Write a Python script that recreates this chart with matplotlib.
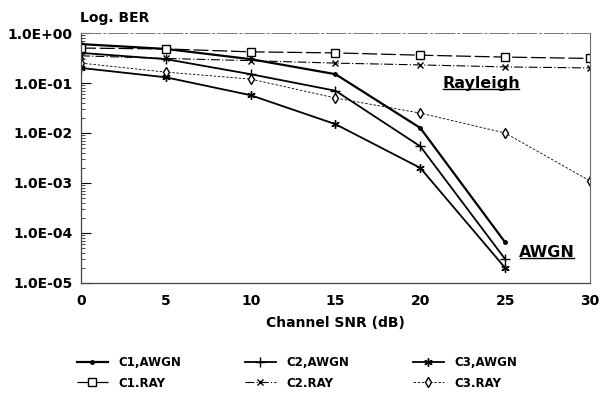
import matplotlib
matplotlib.use("Agg")
import matplotlib.pyplot as plt
from matplotlib.lines import Line2D

snr_awgn = [0, 5, 10, 15, 20, 25]
snr_ray = [0, 5, 10, 15, 20, 25, 30]
c1_awgn = [0.6, 0.48, 0.3, 0.15, 0.0126, 6.5e-5]
c2_awgn = [0.4, 0.3, 0.15, 0.07, 0.0054, 3e-5]
c3_awgn = [0.2, 0.13, 0.057, 0.015, 0.002, 2e-5]
c1_ray = [0.5, 0.48, 0.42, 0.4, 0.36, 0.33, 0.31]
c2_ray = [0.35, 0.31, 0.28, 0.25, 0.23, 0.21, 0.2]
c3_ray = [0.25, 0.165, 0.12, 0.05, 0.025, 0.01, 0.0011]

xticks = [0, 5, 10, 15, 20, 25, 30]
yticks = [1e0, 1e-1, 1e-2, 1e-3, 1e-4, 1e-5]
ytick_labels = ["1.0E+00", "1.0E-01", "1.0E-02", "1.0E-03", "1.0E-04", "1.0E-05"]

plt.rcParams['font.family'] = ['DejaVu Sans']

fig = plt.figure(figsize=(6.02, 3.93), dpi=100)
ax = fig.add_axes([0.1346, 0.280, 0.8454, 0.636])

l1, = ax.plot(snr_awgn, c1_awgn, '-', lw=1.6, marker='.', color='black', markersize=5, label='C1,AWGN')
l2, = ax.plot(snr_awgn, c2_awgn, '-', lw=1.3, marker='+', color='black', markersize=7, label='C2,AWGN')
l3, = ax.plot(snr_awgn, c3_awgn, '-', lw=1.3, marker=(6, 2, 0), color='black', markersize=6, label='C3,AWGN')
r1, = ax.plot(snr_ray, c1_ray, linestyle=(0, (12, 3)), lw=0.9, marker='s', markerfacecolor='white',
              color='black', markersize=5.5, label='C1.RAY')
r2, = ax.plot(snr_ray, c2_ray, linestyle=(0, (8, 2, 1, 2)), lw=0.8, marker='x', color='black',
              markersize=5, label='C2.RAY')
r3, = ax.plot(snr_ray, c3_ray, linestyle=(0, (3, 2)), lw=0.6, marker='d', markerfacecolor='white',
              color='black', markersize=5, label='C3.RAY')

ax.set_yscale('log')
ax.set_xlim(0, 30)
ax.set_ylim(1e-5, 1)
ax.set_xticks(xticks)
ax.set_xticklabels([str(v) for v in xticks], fontsize=10, fontweight='bold')
ax.set_yticks(yticks)
ax.set_yticklabels(ytick_labels, fontsize=10, fontweight='bold')
ax.tick_params(axis='x', length=0, pad=8)
ax.tick_params(axis='y', which='major', direction='in', length=7, width=0.8, pad=6)
ax.tick_params(axis='y', which='minor', direction='in', length=3, width=0.5, labelleft=False)

for s in ['left', 'bottom']:
    ax.spines[s].set_color('#444444')
    ax.spines[s].set_linewidth(0.9)
ax.spines['top'].set_color('#777777')
ax.spines['top'].set_linewidth(0.7)
ax.spines['top'].set_linestyle((0, (20, 3, 2, 3)))
ax.spines['right'].set_color('#666666')
ax.spines['right'].set_linewidth(0.8)

ax.set_xlabel('Channel SNR (dB)', fontsize=10, fontweight='bold', labelpad=6)
fig.text(0.133, 0.955, 'Log. BER', fontsize=10, fontweight='bold', ha='left', va='center')

t1 = ax.text(21.3, 0.1, 'Rayleigh', fontsize=11.5, fontweight='bold', ha='left', va='center')
t2 = ax.text(25.8, 4.0e-5, 'AWGN', fontsize=11.5, fontweight='bold', ha='left', va='center')

fig.canvas.draw()
r = fig.canvas.get_renderer()
inv = fig.transFigure.inverted()
for t in (t1, t2):
    bb = t.get_window_extent(r)
    (x0, y0) = inv.transform((bb.x0 + 1, bb.y0 + 2))
    (x1, _) = inv.transform((bb.x1 - 1, bb.y0 + 2))
    fig.add_artist(Line2D([x0, x1], [y0, y0], color='black', lw=1.0, transform=fig.transFigure))

leg = fig.legend(handles=[l1, r1, l2, r2, l3, r3], ncol=3, loc='upper left',
                 bbox_to_anchor=(0.12, 0.105), frameon=False, fontsize=8.5,
                 handlelength=2.6, handletextpad=0.9, columnspacing=5.4,
                 labelspacing=0.6, borderaxespad=0)
for t in leg.get_texts():
    t.set_fontweight('bold')

fig.savefig('out.png', dpi=100)
